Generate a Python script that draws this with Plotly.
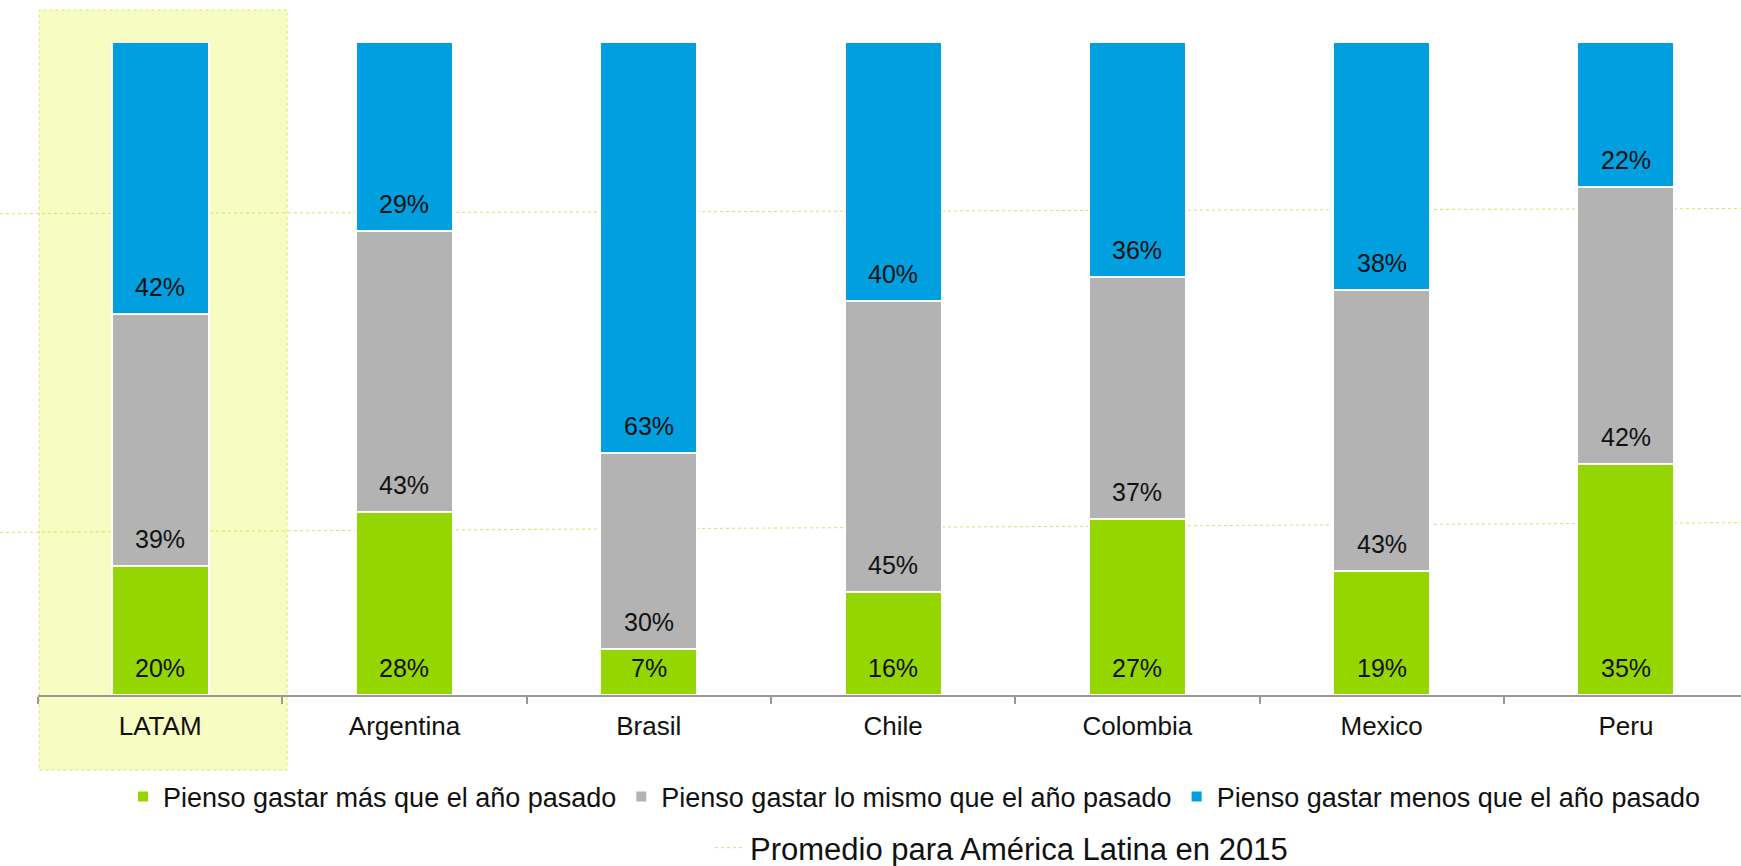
import plotly.graph_objects as go

categories = ["LATAM", "Argentina", "Brasil", "Chile", "Colombia", "Mexico", "Peru"]
mas = [20, 28, 7, 16, 27, 19, 35]
mismo = [39, 43, 30, 45, 37, 43, 42]
menos = [42, 29, 63, 40, 36, 38, 22]
series_names = [
    "Pienso gastar más que el año pasado",
    "Pienso gastar lo mismo que el año pasado",
    "Pienso gastar menos que el año pasado",
]
series_colors = ["#95D500", "#B3B3B3", "#009FDF"]
promedio_name = "Promedio para América Latina en 2015"
# average lines (start value, end value across the chart)
promedio_lines = [(73.7, 74.5), (24.9, 26.4)]

W, H = 1741, 866
ML, MR, MT, MB = 38, 0, 42, 171
PW = W - ML - MR
PH = H - MT - MB
CAT_PX = 244.3
FONT = "Liberation Sans, Arial, sans-serif"

fig = go.Figure()
all_series = [mas, mismo, menos]
for name, vals, col in zip(series_names, all_series, series_colors):
    fig.add_trace(go.Bar(
        x=categories, y=vals, name=name,
        marker=dict(color=col, line=dict(color="white", width=2)),
        hoverinfo="skip", legend="legend",
    ))

# invisible trace carrying the average-line legend entry
fig.add_trace(go.Scatter(
    x=[None], y=[None], mode="lines", name=promedio_name,
    line=dict(color="#D6E36A", width=1, dash="dot"),
    legend="legend2", hoverinfo="skip",
))

# labels: near the bottom of every segment (normalised stacking)
annotations = []
for i, cat in enumerate(categories):
    total = sum(s[i] for s in all_series)
    base = 0.0
    for s in all_series:
        annotations.append(dict(
            x=cat, y=base, yshift=27, text=f"{s[i]}%", showarrow=False,
            xanchor="center", yanchor="middle",
            font=dict(family=FONT, size=25, color="#111111"),
        ))
        base += s[i] / total * 100

def px_x(p):
    return (p - ML) / PW

def px_y(p):
    return (H - MB - p) / PH

shapes = [dict(
    type="rect", xref="paper", yref="paper",
    x0=px_x(39.3), x1=px_x(287), y0=px_y(770), y1=px_y(10),
    fillcolor="#F7FCC2", line=dict(color="#D9E866", width=1, dash="dot"),
    layer="below",
)]
for y0, y1 in promedio_lines:
    shapes.append(dict(
        type="line", xref="paper", yref="y",
        x0=px_x(0), x1=px_x(W), y0=y0, y1=y1,
        line=dict(color="#D6E36A", width=1, dash="dot"), layer="below",
    ))

fig.update_layout(
    width=W, height=H, autosize=False,
    margin=dict(l=ML, r=MR, t=MT, b=MB, pad=0),
    barmode="stack", barnorm="percent", bargap=0.603,
    paper_bgcolor="white", plot_bgcolor="rgba(0,0,0,0)",
    font=dict(family=FONT, color="#111111"),
    annotations=annotations, shapes=shapes,
    xaxis=dict(
        type="category", range=[-0.5, -0.5 + PW / CAT_PX],
        showline=True, linecolor="#999999", linewidth=1.5,
        ticks="outside", tickson="boundaries", ticklen=7,
        tickcolor="#999999", tickwidth=1.5, ticklabelstandoff=7,
        tickfont=dict(family=FONT, size=26, color="#111111"),
        showgrid=False, zeroline=False, fixedrange=True,
    ),
    yaxis=dict(range=[0, 100], visible=False, fixedrange=True),
    legend=dict(
        orientation="h", xref="container", yref="container",
        x=123 / W, y=1 - 797 / H, xanchor="left", yanchor="middle",
        font=dict(family=FONT, size=27, color="#111111"),
        bgcolor="rgba(0,0,0,0)", traceorder="normal",
    ),
    legend2=dict(
        orientation="h", xref="container", yref="container",
        x=710 / W, y=1 - 848 / H, xanchor="left", yanchor="middle",
        font=dict(family=FONT, size=31, color="#111111"),
        bgcolor="rgba(0,0,0,0)",
    ),
    showlegend=True,
)

fig.write_html(
    "out.html",
    config={"displayModeBar": False},
    post_script="document.body.style.margin='0';document.body.style.overflow='hidden';",
)
